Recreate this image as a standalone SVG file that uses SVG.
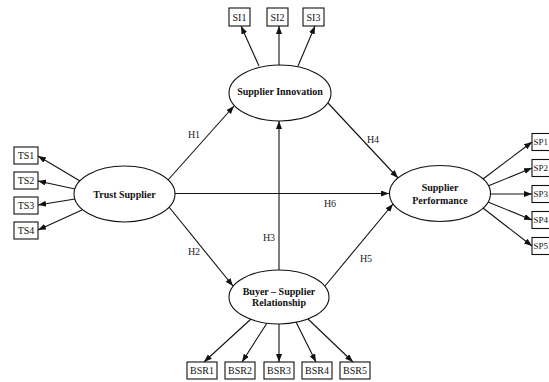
<svg xmlns="http://www.w3.org/2000/svg" width="549" height="382" viewBox="0 0 549 382">
<defs>
<marker id="ah" markerUnits="userSpaceOnUse" markerWidth="9" markerHeight="7" refX="8" refY="3" orient="auto">
<path d="M0,0 L8,3 L0,6 z" fill="#111"/>
</marker>
<style>
.e{fill:#fff;stroke:#111;stroke-width:1.1}
.b{fill:#fff;stroke:#111;stroke-width:1.1}
.et{font-family:"Liberation Serif","Times New Roman",serif;font-size:10px;font-weight:bold;fill:#111;text-anchor:middle}
.bt{font-family:"Liberation Serif","Times New Roman",serif;font-size:10px;fill:#111;text-anchor:middle}
.st{font-family:"Liberation Serif","Times New Roman",serif;font-size:9px;fill:#111;text-anchor:start}
.lt{font-family:"Liberation Serif","Times New Roman",serif;font-size:10px;fill:#222;text-anchor:middle}
.c line{stroke:#111;stroke-width:1.1;marker-end:url(#ah)}
</style>
</defs>
<rect width="549" height="382" fill="#fff"/>
<g id="connectors" class="c">
<line x1="80" y1="181" x2="38" y2="156"/>
<line x1="75" y1="189" x2="38" y2="181"/>
<line x1="75" y1="199" x2="38" y2="205"/>
<line x1="82" y1="210" x2="38" y2="230"/>
<line x1="259" y1="66" x2="241" y2="26"/>
<line x1="279" y1="65" x2="279" y2="26"/>
<line x1="298" y1="66" x2="315" y2="26"/>
<line x1="251" y1="319" x2="204" y2="362"/>
<line x1="267" y1="323" x2="242" y2="362"/>
<line x1="279" y1="324" x2="279" y2="362"/>
<line x1="296" y1="322" x2="316" y2="362"/>
<line x1="308" y1="319" x2="353" y2="362"/>
<line x1="483" y1="179" x2="532" y2="142"/>
<line x1="488" y1="186" x2="532" y2="168"/>
<line x1="490.5" y1="194" x2="532" y2="194"/>
<line x1="488" y1="202" x2="532" y2="220"/>
<line x1="483" y1="208" x2="532" y2="246"/>
<line x1="168" y1="180" x2="234" y2="106"/>
<line x1="169" y1="207" x2="233" y2="286"/>
<line x1="175" y1="193.5" x2="389" y2="193.5"/>
<line x1="279" y1="270" x2="279" y2="121"/>
<line x1="328" y1="103" x2="398" y2="178"/>
<line x1="325" y1="286" x2="393" y2="204"/>
</g>
<g id="labels">
<text class="lt" x="194" y="138">H1</text>
<text class="lt" x="194" y="255">H2</text>
<text class="lt" x="269" y="241">H3</text>
<text class="lt" x="373" y="143">H4</text>
<text class="lt" x="366" y="262">H5</text>
<text class="lt" x="330" y="207">H6</text>
</g>
<g id="TrustSupplier"><ellipse class="e" cx="124.5" cy="194" rx="50.5" ry="28"/><text class="et" x="124.5" y="197.5">Trust Supplier</text></g>
<g id="SupplierInnovation"><ellipse class="e" cx="280" cy="93" rx="51" ry="28"/><text class="et" x="280" y="94.5">Supplier Innovation</text></g>
<g id="SupplierPerformance"><ellipse class="e" cx="440" cy="193.5" rx="50.5" ry="28"/><text class="et" x="440" y="191">Supplier</text><text class="et" x="440" y="204">Performance</text></g>
<g id="BuyerSupplierRelationship"><ellipse class="e" cx="279" cy="297" rx="50" ry="27"/><text class="et" x="279" y="294.5">Buyer – Supplier</text><text class="et" x="279" y="306">Relationship</text></g>
<g id="TS1"><rect class="b" x="14" y="147" width="24" height="17"/><text class="bt" x="26" y="159">TS1</text></g>
<g id="TS2"><rect class="b" x="14" y="172" width="24" height="17"/><text class="bt" x="26" y="184">TS2</text></g>
<g id="TS3"><rect class="b" x="14" y="197" width="24" height="17"/><text class="bt" x="26" y="209">TS3</text></g>
<g id="TS4"><rect class="b" x="14" y="222" width="24" height="17"/><text class="bt" x="26" y="234">TS4</text></g>
<g id="SI1"><rect class="b" x="229" y="8" width="21" height="18"/><text class="bt" x="239.5" y="21">SI1</text></g>
<g id="SI2"><rect class="b" x="267" y="8" width="21" height="18"/><text class="bt" x="277.5" y="21">SI2</text></g>
<g id="SI3"><rect class="b" x="303" y="8" width="21" height="18"/><text class="bt" x="313.5" y="21">SI3</text></g>
<g id="BSR1"><rect class="b" x="187" y="362" width="30" height="17"/><text class="bt" x="202" y="374">BSR1</text></g>
<g id="BSR2"><rect class="b" x="225" y="362" width="30" height="17"/><text class="bt" x="240" y="374">BSR2</text></g>
<g id="BSR3"><rect class="b" x="264" y="362" width="30" height="17"/><text class="bt" x="279" y="374">BSR3</text></g>
<g id="BSR4"><rect class="b" x="302" y="362" width="30" height="17"/><text class="bt" x="317" y="374">BSR4</text></g>
<g id="BSR5"><rect class="b" x="340" y="362" width="30" height="17"/><text class="bt" x="355" y="374">BSR5</text></g>
<g id="SP1"><rect class="b" x="532" y="133.5" width="28" height="17"/><text class="st" x="533.5" y="145">SP1</text></g>
<g id="SP2"><rect class="b" x="532" y="159.5" width="28" height="17"/><text class="st" x="533.5" y="171">SP2</text></g>
<g id="SP3"><rect class="b" x="532" y="185.5" width="28" height="17"/><text class="st" x="533.5" y="197">SP3</text></g>
<g id="SP4"><rect class="b" x="532" y="211.5" width="28" height="17"/><text class="st" x="533.5" y="223">SP4</text></g>
<g id="SP5"><rect class="b" x="532" y="237.5" width="28" height="17"/><text class="st" x="533.5" y="249">SP5</text></g>
</svg>
